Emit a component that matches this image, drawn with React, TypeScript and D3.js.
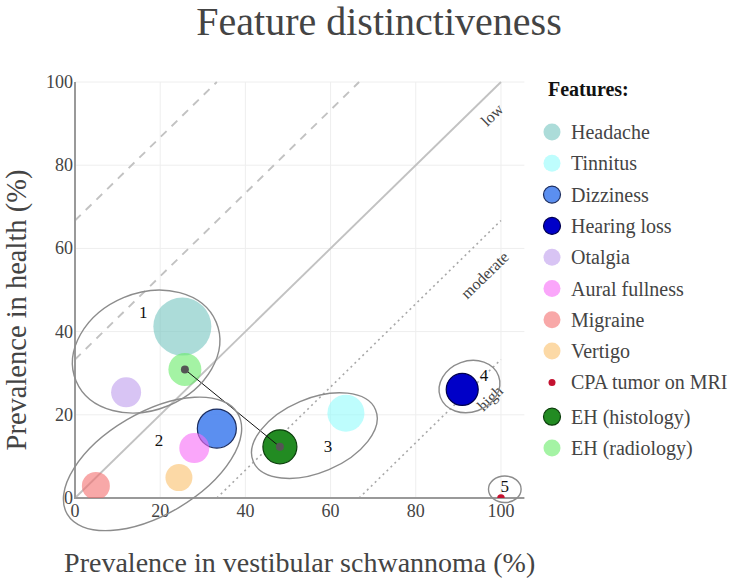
import React from 'react';
import * as d3 from 'd3';

const features = ['Headache', 'Tinnitus', 'Dizziness', 'Hearing loss', 'Otalgia', 'Aural fullness', 'Migraine', 'Vertigo', 'CPA tumor on MRI', 'EH (histology)', 'EH (radiology)'];
const prevalenceVS = [25.2, 63.6, 33.3, 90.9, 12.0, 28.0, 4.9, 24.4, 100, 48.1, 25.8];
const prevalenceHealth = [41.2, 20.4, 16.7, 26.1, 25.4, 12.0, 2.9, 4.9, 0, 12.3, 30.9];
const markerSize = [58, 37, 39, 32, 30, 30, 28, 27, 7.5, 34, 33];
const markerColors = ['#75c5c0', '#93fbfb', '#3e7bed', '#0000c8', '#be9ded', '#f76bf7', '#f36e6e', '#fac06b', '#c41230', '#228b22', '#67eb67'];
const markerOpacity = [0.6, 0.6, 0.85, 1, 0.6, 0.6, 0.6, 0.6, 1, 1, 0.6];
const markerOutline = ['none', 'none', '#1c2d5e', '#00004d', 'none', 'none', 'none', 'none', 'none', '#0b3d0b', 'none'];

const xTicks = [0, 20, 40, 60, 80, 100];
const yTicks = [0, 20, 40, 60, 80, 100];

const boundaryIntercepts = [66.7, 33.3, 0, -33.3, -66.7];
const boundaryStyles = ['dashed', 'dashed', 'solid', 'dotted', 'dotted'];
const boundaryLabels = ['low', 'moderate', 'high'];
const boundaryLabelX = [97.9, 96.2, 97.4];
const boundaryLabelY = [92.1, 53.6, 24.0];

const clusterIds = ['1', '2', '3', '4', '5'];
const clusterLabelX = [16.0, 19.7, 59.4, 96.0, 100.9];
const clusterLabelY = [44.7, 13.9, 12.5, 29.4, 2.7];
const clusterCenterX = [16.7, 18.2, 56.2, 92.6, 100.9];
const clusterCenterY = [35.2, 8.2, 15.0, 26.8, 2.1];
const clusterRadiusA = [17.84, 23.24, 15.59, 7.28, 3.83];
const clusterRadiusB = [13.73, 11.97, 8.69, 5.99, 3.12];
const clusterAngle = [-22.8, -30.5, -23, -20, 0];

const linkFrom = 10;
const linkTo = 9;

const SERIF = '"Liberation Serif", "Times New Roman", serif';

export default function App() {
  const x = d3.scaleLinear().domain([0, 105.5]).range([75, 524.4]);
  const y = d3.scaleLinear().domain([0, 100]).range([498, 82]);
  const unit = x(1) - x(0);
  const [x0, x1] = x.range();
  const [y0, y1] = y.range();

  const line = d3.line<[number, number]>().x(d => x(d[0])).y(d => y(d[1]));

  const boundarySegments = boundaryIntercepts.map(b => {
    const xs = Math.max(0, -b);
    const xe = Math.min(100, 100 - b);
    return [[xs, xs + b], [xe, xe + b]] as [number, number][];
  });

  const angle = -Math.atan2(y(0) - y(1), x(1) - x(0)) * 180 / Math.PI;

  return (
    <svg width={743} height={580} style={{ position: 'absolute', left: 0, top: 0, background: '#fff' }} fontFamily={SERIF}>
      <defs>
        <clipPath id="plotClip">
          <rect x={x0} y={y1} width={x1 - x0} height={y0 - y1} />
        </clipPath>
      </defs>
      <rect x={0} y={0} width={743} height={580} fill="#fff" />

      {/* title */}
      <text x={379} y={35} textAnchor="middle" fontSize={40} fill="#444">Feature distinctiveness</text>

      {/* grid */}
      <g stroke="#eeeeee" strokeWidth={1}>
        {xTicks.filter(t => t > 0).map(t => (
          <line key={'gx' + t} x1={x(t)} x2={x(t)} y1={y0} y2={y1} />
        ))}
        {yTicks.filter(t => t > 0).map(t => (
          <line key={'gy' + t} x1={x0} x2={x1} y1={y(t)} y2={y(t)} />
        ))}
      </g>

      {/* boundaries */}
      {boundarySegments.map((seg, i) => (
        <path
          key={'b' + i}
          d={line(seg) || ''}
          fill="none"
          stroke={boundaryStyles[i] === 'dotted' ? '#a8a8a8' : '#c2c2c2'}
          strokeWidth={boundaryStyles[i] === 'dotted' ? 1.6 : 1.9}
          strokeDasharray={boundaryStyles[i] === 'dashed' ? '8,7' : boundaryStyles[i] === 'dotted' ? '2,3.5' : undefined}
        />
      ))}
      {boundaryLabels.map((t, i) => (
        <text
          key={'bl' + i}
          transform={`translate(${x(boundaryLabelX[i])},${y(boundaryLabelY[i])}) rotate(${angle})`}
          textAnchor="middle"
          dominantBaseline="central"
          fontSize={16}
          fill="#444"
        >{t}</text>
      ))}

      {/* axes */}
      <line x1={x0} x2={x0} y1={y1} y2={y0 + 1} stroke="#999" strokeWidth={2} />
      <line x1={x0} x2={x1} y1={y0} y2={y0} stroke="#999" strokeWidth={2} />
      {yTicks.map(t => (
        <text key={'yt' + t} x={73} y={y(t)} textAnchor="end" dominantBaseline="central" fontSize={18} fill="#444">{t}</text>
      ))}
      {xTicks.map(t => (
        <text key={'xt' + t} x={x(t)} y={517} textAnchor="middle" fontSize={18} fill="#444">{t}</text>
      ))}
      <text x={x((x.domain()[0] + x.domain()[1]) / 2)} y={572} textAnchor="middle" fontSize={28} fill="#444">Prevalence in vestibular schwannoma (%)</text>
      <text transform={`translate(26,${(y0 + y1) / 2 + 20}) rotate(-90)`} textAnchor="middle" fontSize={28.5} fill="#444">Prevalence in health (%)</text>

      {/* bubbles */}
      <g clipPath="url(#plotClip)">
        {features.map((f, i) => (
          <circle
            key={'m' + i}
            cx={x(prevalenceVS[i])}
            cy={y(prevalenceHealth[i])}
            r={markerSize[i] / 2}
            fill={markerColors[i]}
            fillOpacity={markerOpacity[i]}
            stroke={markerOutline[i]}
            strokeWidth={1.2}
          />
        ))}
      </g>

      {/* link */}
      <line
        x1={x(prevalenceVS[linkFrom])}
        y1={y(prevalenceHealth[linkFrom])}
        x2={x(prevalenceVS[linkTo])}
        y2={y(prevalenceHealth[linkTo])}
        stroke="#111"
        strokeWidth={1}
      />
      {[linkFrom, linkTo].map(i => (
        <circle key={'ld' + i} cx={x(prevalenceVS[i])} cy={y(prevalenceHealth[i])} r={4} fill="#555" />
      ))}

      {/* clusters */}
      {clusterIds.map((c, i) => (
        <ellipse
          key={'e' + i}
          transform={`translate(${x(clusterCenterX[i])},${y(clusterCenterY[i])}) rotate(${clusterAngle[i]})`}
          rx={clusterRadiusA[i] * unit}
          ry={clusterRadiusB[i] * unit}
          fill="none"
          stroke="#8c8c8c"
          strokeWidth={1.4}
        />
      ))}
      {clusterIds.map((c, i) => (
        <text key={'cl' + i} x={x(clusterLabelX[i])} y={y(clusterLabelY[i])} textAnchor="middle" dominantBaseline="central" fontSize={17} fill="#111">{c}</text>
      ))}

      {/* legend */}
      <text x={548} y={96} fontSize={20} fontWeight="bold" fill="#111">Features:</text>
      {features.map((f, i) => {
        const ly = 132 + i * 31.3 + (i >= 9 ? 3 : 0);
        return (
          <g key={'lg' + i}>
            <circle
              cx={552}
              cy={ly}
              r={i === 8 ? 3.5 : 8.5}
              fill={markerColors[i]}
              fillOpacity={markerOpacity[i]}
              stroke={markerOutline[i]}
              strokeWidth={1.2}
            />
            <text x={571} y={ly} dominantBaseline="central" fontSize={20} fill="#444">{f}</text>
          </g>
        );
      })}
    </svg>
  );
}
